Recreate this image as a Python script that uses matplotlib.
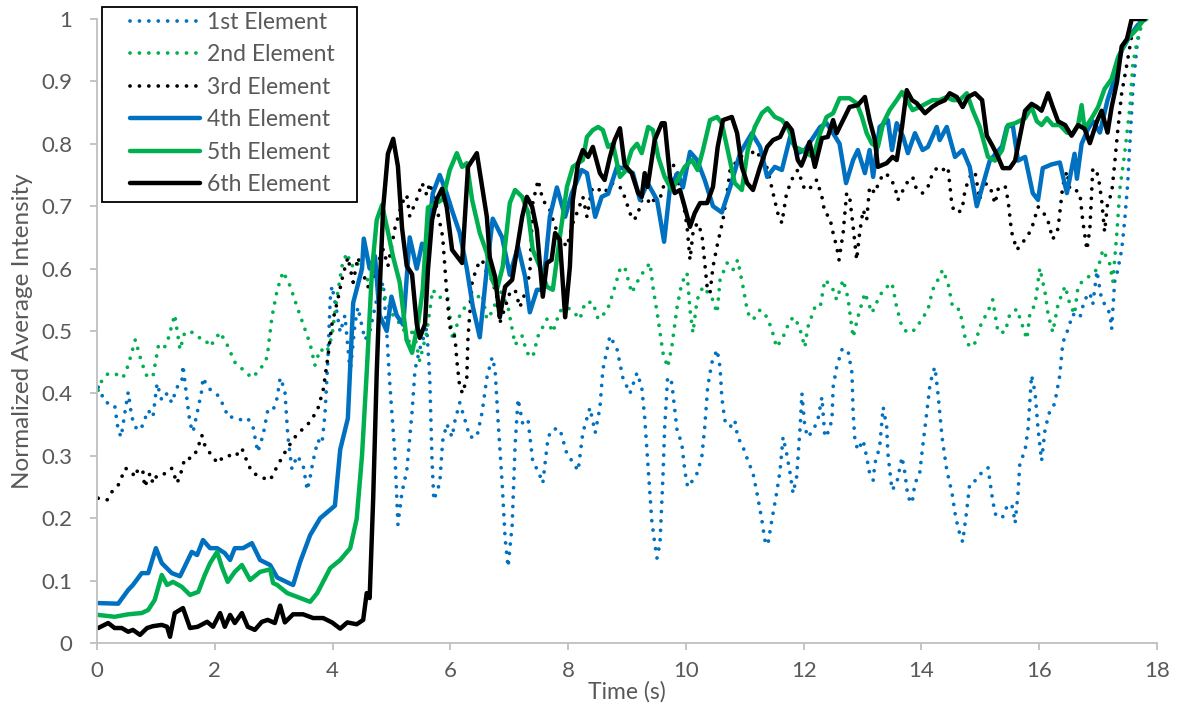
import matplotlib

matplotlib.use("Agg")
import matplotlib.pyplot as plt
from matplotlib.patches import Rectangle

plt.rcParams["font.family"] = ["Lato", "DejaVu Sans"]

# ---- data (time in s, normalized intensity) ----
t_elem1 = [0.02, 0.14, 0.3, 0.36, 0.41, 0.48, 0.53, 0.59, 0.68, 0.76, 0.87, 0.95, 1.02, 1.1, 1.19, 1.27, 1.36, 1.44,
           1.46, 1.53, 1.58, 1.63, 1.71, 1.78, 1.8, 1.88, 1.97, 2.05, 2.17, 2.22, 2.34, 2.46, 2.56, 2.65, 2.73, 2.82,
           2.9, 2.99, 3.06, 3.11, 3.19, 3.24, 3.31, 3.4, 3.5, 3.57, 3.62, 3.67, 3.75, 3.82, 3.87, 3.92, 3.96, 3.99,
           4.07, 4.13, 4.21, 4.3, 4.38, 4.43, 4.55, 4.63, 4.75, 4.86, 4.92, 4.97, 5.06, 5.11, 5.18, 5.26, 5.35, 5.4,
           5.48, 5.6, 5.65, 5.69, 5.72, 5.82, 5.87, 5.94, 6.03, 6.08, 6.16, 6.25, 6.33, 6.45, 6.54, 6.62, 6.71, 6.76,
           6.81, 6.88, 6.93, 6.98, 7.05, 7.1, 7.15, 7.23, 7.32, 7.4, 7.49, 7.57, 7.66, 7.74, 7.86, 7.98, 8.08, 8.17,
           8.25, 8.37, 8.46, 8.54, 8.59, 8.71, 8.83, 8.93, 9.05, 9.17, 9.25, 9.3, 9.35, 9.42, 9.47, 9.51, 9.56, 9.61,
           9.64, 9.69, 9.76, 9.85, 9.93, 9.98, 10.03, 10.12, 10.19, 10.27, 10.32, 10.37, 10.44, 10.53, 10.58, 10.61,
           10.66, 10.75, 10.83, 10.88, 10.97, 11.05, 11.14, 11.22, 11.29, 11.34, 11.39, 11.46, 11.54, 11.6, 11.65,
           11.71, 11.77, 11.82, 11.88, 11.94, 11.97, 12.02, 12.07, 12.16, 12.24, 12.31, 12.36, 12.41, 12.48, 12.5,
           12.56, 12.65, 12.75, 12.82, 12.84, 12.87, 12.92, 13.01, 13.07, 13.12, 13.18, 13.21, 13.29, 13.35, 13.41,
           13.43, 13.5, 13.58, 13.67, 13.72, 13.77, 13.84, 13.89, 13.97, 14.02, 14.09, 14.14, 14.19, 14.23, 14.28,
           14.35, 14.43, 14.52, 14.57, 14.63, 14.7, 14.77, 14.82, 14.91, 14.99, 15.13, 15.2, 15.25, 15.37, 15.47,
           15.55, 15.59, 15.64, 15.67, 15.76, 15.81, 15.87, 15.93, 15.98, 16.04, 16.1, 16.18, 16.26, 16.35, 16.4,
           16.49, 16.57, 16.69, 16.77, 16.86, 16.91, 16.98, 17.06, 17.15, 17.2, 17.23, 17.28, 17.33, 17.4, 17.45,
           17.5, 17.54, 17.59, 17.66, 17.71, 17.76]
v_elem1 = [0.41, 0.386, 0.381, 0.341, 0.33, 0.373, 0.402, 0.362, 0.341, 0.346, 0.373, 0.362, 0.416, 0.389, 0.4,
           0.385, 0.41, 0.418, 0.445, 0.389, 0.352, 0.338, 0.373, 0.405, 0.425, 0.41, 0.402, 0.397, 0.377, 0.362,
           0.362, 0.357, 0.36, 0.346, 0.306, 0.333, 0.373, 0.373, 0.393, 0.425, 0.405, 0.332, 0.279, 0.3, 0.285,
           0.245, 0.266, 0.292, 0.325, 0.319, 0.365, 0.452, 0.551, 0.572, 0.532, 0.498, 0.525, 0.433, 0.511, 0.538,
           0.486, 0.498, 0.551, 0.578, 0.498, 0.418, 0.3, 0.19, 0.242, 0.276, 0.37, 0.438, 0.471, 0.505, 0.425,
           0.29, 0.229, 0.256, 0.324, 0.351, 0.33, 0.357, 0.385, 0.357, 0.33, 0.33, 0.37, 0.425, 0.458, 0.438,
           0.357, 0.256, 0.168, 0.122, 0.189, 0.317, 0.391, 0.351, 0.357, 0.29, 0.276, 0.256, 0.33, 0.343, 0.343,
           0.303, 0.29, 0.276, 0.337, 0.377, 0.337, 0.377, 0.438, 0.492, 0.471, 0.425, 0.4, 0.433, 0.41, 0.362,
           0.293, 0.197, 0.16, 0.136, 0.16, 0.266, 0.346, 0.426, 0.417, 0.341, 0.32, 0.277, 0.25, 0.261, 0.272,
           0.298, 0.346, 0.41, 0.449, 0.47, 0.442, 0.394, 0.357, 0.346, 0.357, 0.33, 0.314, 0.293, 0.272, 0.234,
           0.197, 0.165, 0.157, 0.197, 0.24, 0.277, 0.33, 0.304, 0.272, 0.24, 0.266, 0.346, 0.4, 0.346, 0.33, 0.341,
           0.357, 0.394, 0.33, 0.337, 0.357, 0.41, 0.442, 0.47, 0.47, 0.433, 0.369, 0.325, 0.309, 0.325, 0.298,
           0.272, 0.261, 0.288, 0.314, 0.378, 0.346, 0.304, 0.245, 0.256, 0.298, 0.272, 0.234, 0.224, 0.256, 0.272,
           0.314, 0.369, 0.41, 0.433, 0.442, 0.4, 0.33, 0.277, 0.24, 0.208, 0.181, 0.162, 0.213, 0.256, 0.26, 0.27,
           0.281, 0.235, 0.207, 0.2, 0.223, 0.218, 0.192, 0.24, 0.287, 0.309, 0.343, 0.429, 0.401, 0.343, 0.292,
           0.343, 0.372, 0.383, 0.429, 0.481, 0.503, 0.527, 0.521, 0.55, 0.561, 0.543, 0.596, 0.55, 0.538, 0.527,
           0.503, 0.579, 0.596, 0.63, 0.676, 0.733, 0.801, 0.888, 0.956, 0.984, 1.0]

t_elem2 = [0.02, 0.08, 0.19, 0.36, 0.44, 0.53, 0.65, 0.76, 0.85, 0.95, 1.04, 1.12, 1.19, 1.32, 1.41, 1.49, 1.61,
           1.71, 1.83, 1.92, 2.09, 2.21, 2.34, 2.48, 2.63, 2.77, 2.89, 2.97, 3.06, 3.16, 3.28, 3.4, 3.5, 3.62, 3.7,
           3.79, 3.9, 3.99, 4.07, 4.16, 4.24, 4.33, 4.41, 4.5, 4.62, 4.75, 4.86, 5.03, 5.2, 5.28, 5.37, 5.48, 5.6,
           5.7, 5.82, 5.94, 6.04, 6.16, 6.3, 6.45, 6.54, 6.62, 6.72, 6.84, 6.98, 7.1, 7.22, 7.3, 7.4, 7.49, 7.64,
           7.74, 7.86, 7.98, 8.08, 8.2, 8.29, 8.42, 8.51, 8.66, 8.76, 8.88, 8.96, 9.08, 9.22, 9.39, 9.44, 9.53,
           9.61, 9.69, 9.76, 9.85, 9.93, 10.02, 10.07, 10.12, 10.19, 10.29, 10.44, 10.53, 10.58, 10.7, 10.8, 10.88,
           10.97, 11.05, 11.14, 11.26, 11.38, 11.46, 11.54, 11.65, 11.77, 11.85, 11.94, 12.02, 12.07, 12.19, 12.28,
           12.36, 12.48, 12.56, 12.67, 12.75, 12.84, 12.92, 13.04, 13.16, 13.26, 13.35, 13.5, 13.58, 13.67, 13.77,
           13.89, 14.0, 14.11, 14.19, 14.28, 14.36, 14.45, 14.53, 14.65, 14.74, 14.82, 14.91, 15.03, 15.11, 15.21,
           15.3, 15.42, 15.5, 15.62, 15.71, 15.79, 15.84, 15.93, 16.01, 16.1, 16.15, 16.23, 16.32, 16.44, 16.52,
           16.6, 16.66, 16.77, 16.89, 17.0, 17.08, 17.2, 17.25, 17.32, 17.37, 17.45, 17.54, 17.59, 17.67, 17.74,
           17.79]
v_elem2 = [0.405, 0.42, 0.432, 0.43, 0.425, 0.445, 0.486, 0.449, 0.427, 0.427, 0.475, 0.47, 0.481, 0.526, 0.47,
           0.498, 0.498, 0.49, 0.487, 0.475, 0.498, 0.478, 0.45, 0.438, 0.425, 0.438, 0.458, 0.522, 0.566, 0.595,
           0.572, 0.538, 0.511, 0.479, 0.445, 0.471, 0.465, 0.492, 0.551, 0.604, 0.625, 0.604, 0.612, 0.591, 0.58,
           0.6, 0.56, 0.525, 0.505, 0.478, 0.505, 0.452, 0.498, 0.566, 0.553, 0.566, 0.486, 0.525, 0.546, 0.553,
           0.56, 0.519, 0.532, 0.566, 0.538, 0.478, 0.492, 0.465, 0.458, 0.492, 0.519, 0.498, 0.532, 0.538, 0.532,
           0.519, 0.546, 0.546, 0.519, 0.532, 0.56, 0.599, 0.603, 0.561, 0.587, 0.609, 0.571, 0.518, 0.465, 0.442,
           0.474, 0.538, 0.577, 0.593, 0.534, 0.497, 0.55, 0.571, 0.554, 0.529, 0.582, 0.609, 0.598, 0.614, 0.571,
           0.529, 0.518, 0.534, 0.522, 0.502, 0.474, 0.49, 0.518, 0.522, 0.502, 0.474, 0.506, 0.538, 0.538, 0.582,
           0.571, 0.55, 0.582, 0.554, 0.49, 0.522, 0.561, 0.529, 0.55, 0.566, 0.577, 0.538, 0.506, 0.497, 0.502,
           0.518, 0.534, 0.566, 0.582, 0.598, 0.577, 0.538, 0.534, 0.49, 0.474, 0.481, 0.516, 0.527, 0.55, 0.498,
           0.498, 0.527, 0.535, 0.51, 0.487, 0.527, 0.543, 0.601, 0.561, 0.527, 0.498, 0.543, 0.572, 0.543, 0.527,
           0.572, 0.583, 0.59, 0.601, 0.63, 0.607, 0.579, 0.659, 0.728, 0.784, 0.859, 0.928, 0.968, 0.99, 1.0]

t_elem3 = [0.02, 0.17, 0.25, 0.36, 0.42, 0.48, 0.56, 0.65, 0.7, 0.78, 0.81, 0.9, 0.95, 1.02, 1.19, 1.27, 1.36, 1.44,
           1.49, 1.61, 1.7, 1.78, 1.83, 1.92, 2.05, 2.14, 2.22, 2.34, 2.46, 2.56, 2.63, 2.77, 2.94, 3.07, 3.23, 3.4,
           3.57, 3.74, 3.84, 3.92, 3.99, 4.09, 4.18, 4.26, 4.35, 4.43, 4.52, 4.63, 4.75, 4.86, 4.94, 5.06, 5.18,
           5.26, 5.31, 5.43, 5.52, 5.6, 5.65, 5.77, 5.87, 5.94, 5.99, 6.08, 6.11, 6.16, 6.21, 6.28, 6.3, 6.37, 6.45,
           6.54, 6.62, 6.71, 6.79, 6.84, 6.93, 7.01, 7.1, 7.18, 7.27, 7.35, 7.4, 7.49, 7.57, 7.69, 7.78, 7.89, 7.98,
           8.08, 8.17, 8.25, 8.32, 8.4, 8.49, 8.57, 8.66, 8.76, 8.88, 8.96, 9.05, 9.1, 9.17, 9.25, 9.34, 9.42, 9.51,
           9.59, 9.68, 9.78, 9.86, 9.95, 10.02, 10.07, 10.12, 10.19, 10.27, 10.36, 10.41, 10.46, 10.54, 10.63, 10.7,
           10.75, 10.88, 11.0, 11.09, 11.17, 11.29, 11.39, 11.48, 11.56, 11.63, 11.71, 11.82, 11.9, 12.02, 12.14,
           12.22, 12.31, 12.36, 12.44, 12.5, 12.56, 12.6, 12.67, 12.73, 12.78, 12.84, 12.9, 12.95, 13.01, 13.07,
           13.12, 13.21, 13.29, 13.38, 13.46, 13.55, 13.6, 13.69, 13.75, 13.85, 13.92, 14.02, 14.11, 14.19, 14.28,
           14.36, 14.45, 14.52, 14.6, 14.69, 14.74, 14.82, 14.91, 14.99, 15.04, 15.16, 15.25, 15.3, 15.42, 15.47,
           15.53, 15.62, 15.71, 15.81, 15.89, 15.98, 16.06, 16.15, 16.23, 16.32, 16.4, 16.47, 16.52, 16.6, 16.69,
           16.74, 16.81, 16.86, 16.91, 17.0, 17.06, 17.11, 17.16, 17.23, 17.28, 17.33, 17.4, 17.49, 17.57, 17.67,
           17.76]
v_elem3 = [0.232, 0.229, 0.242, 0.253, 0.266, 0.28, 0.277, 0.266, 0.28, 0.274, 0.25, 0.272, 0.256, 0.269, 0.272,
           0.28, 0.256, 0.277, 0.296, 0.296, 0.309, 0.333, 0.317, 0.304, 0.288, 0.298, 0.301, 0.298, 0.312, 0.288,
           0.274, 0.266, 0.261, 0.285, 0.312, 0.335, 0.349, 0.372, 0.405, 0.458, 0.511, 0.551, 0.591, 0.618, 0.578,
           0.618, 0.591, 0.565, 0.604, 0.631, 0.604, 0.665, 0.705, 0.718, 0.684, 0.711, 0.737, 0.718, 0.737, 0.698,
           0.651, 0.56, 0.507, 0.49, 0.453, 0.41, 0.4, 0.426, 0.49, 0.577, 0.603, 0.614, 0.593, 0.582, 0.555, 0.513,
           0.538, 0.561, 0.566, 0.538, 0.561, 0.593, 0.705, 0.742, 0.71, 0.694, 0.667, 0.646, 0.635, 0.673, 0.694,
           0.715, 0.683, 0.726, 0.731, 0.721, 0.726, 0.737, 0.731, 0.715, 0.689, 0.678, 0.683, 0.71, 0.705, 0.715,
           0.699, 0.721, 0.753, 0.769, 0.742, 0.71, 0.667, 0.614, 0.657, 0.673, 0.657, 0.571, 0.561, 0.603, 0.641,
           0.678, 0.721, 0.758, 0.774, 0.785, 0.795, 0.779, 0.785, 0.758, 0.721, 0.689, 0.673, 0.721, 0.747, 0.758,
           0.726, 0.731, 0.742, 0.715, 0.689, 0.683, 0.657, 0.635, 0.614, 0.657, 0.721, 0.715, 0.667, 0.614, 0.657,
           0.694, 0.678, 0.731, 0.721, 0.742, 0.753, 0.747, 0.731, 0.71, 0.726, 0.737, 0.747, 0.726, 0.721, 0.731,
           0.753, 0.763, 0.758, 0.763, 0.699, 0.689, 0.694, 0.726, 0.747, 0.755, 0.71, 0.738, 0.733, 0.704, 0.727,
           0.733, 0.71, 0.659, 0.63, 0.641, 0.653, 0.67, 0.699, 0.692, 0.676, 0.647, 0.664, 0.733, 0.756, 0.727,
           0.727, 0.721, 0.676, 0.63, 0.664, 0.761, 0.75, 0.71, 0.659, 0.704, 0.721, 0.767, 0.818, 0.881, 0.928,
           0.973, 0.99, 1.0]

t_elem4 = [0.02, 0.36, 0.53, 0.61, 0.76, 0.87, 1.0, 1.1, 1.27, 1.41, 1.61, 1.7, 1.8, 1.92, 2.04, 2.17, 2.26, 2.34,
           2.48, 2.63, 2.77, 2.94, 3.06, 3.28, 3.33, 3.45, 3.62, 3.79, 4.04, 4.13, 4.26, 4.35, 4.5, 4.53, 4.63,
           4.72, 4.8, 4.92, 5.0, 5.09, 5.2, 5.31, 5.43, 5.52, 5.6, 5.7, 5.82, 5.94, 6.04, 6.16, 6.28, 6.38, 6.5,
           6.62, 6.72, 6.88, 7.01, 7.15, 7.27, 7.35, 7.47, 7.57, 7.69, 7.81, 7.95, 8.06, 8.23, 8.32, 8.46, 8.57,
           8.68, 8.83, 8.96, 9.1, 9.22, 9.35, 9.51, 9.63, 9.73, 9.86, 9.95, 10.07, 10.19, 10.32, 10.46, 10.61,
           10.75, 10.92, 11.12, 11.26, 11.38, 11.51, 11.63, 11.77, 11.9, 12.02, 12.28, 12.39, 12.5, 12.61, 12.72,
           12.84, 12.92, 13.04, 13.12, 13.18, 13.29, 13.43, 13.5, 13.58, 13.69, 13.77, 13.89, 14.02, 14.11, 14.26,
           14.31, 14.43, 14.57, 14.7, 14.82, 14.94, 15.04, 15.16, 15.37, 15.45, 15.55, 15.64, 15.76, 15.89, 15.98,
           16.06, 16.21, 16.35, 16.47, 16.6, 16.64, 16.72, 16.83, 16.91, 17.03, 17.16, 17.28, 17.4, 17.54, 17.67,
           17.79]
v_elem4 = [0.064, 0.063, 0.085, 0.093, 0.112, 0.112, 0.152, 0.128, 0.112, 0.107, 0.146, 0.141, 0.165, 0.152, 0.152,
           0.144, 0.133, 0.152, 0.152, 0.16, 0.133, 0.125, 0.105, 0.095, 0.093, 0.13, 0.173, 0.2, 0.22, 0.31, 0.36,
           0.545, 0.6, 0.648, 0.6, 0.62, 0.525, 0.5, 0.555, 0.525, 0.51, 0.65, 0.6, 0.64, 0.625, 0.72, 0.75, 0.72,
           0.69, 0.657, 0.6, 0.54, 0.49, 0.6, 0.68, 0.65, 0.59, 0.635, 0.587, 0.53, 0.566, 0.566, 0.683, 0.73, 0.683,
           0.72, 0.758, 0.753, 0.683, 0.715, 0.72, 0.763, 0.76, 0.753, 0.71, 0.737, 0.71, 0.643, 0.73, 0.753, 0.73,
           0.787, 0.774, 0.742, 0.7, 0.69, 0.73, 0.785, 0.817, 0.795, 0.747, 0.763, 0.758, 0.811, 0.785, 0.79, 0.827,
           0.833, 0.817, 0.8, 0.737, 0.774, 0.79, 0.753, 0.79, 0.747, 0.827, 0.838, 0.79, 0.833, 0.811, 0.785, 0.817,
           0.79, 0.795, 0.827, 0.806, 0.827, 0.779, 0.79, 0.763, 0.7, 0.733, 0.773, 0.796, 0.827, 0.83, 0.773, 0.779,
           0.721, 0.71, 0.761, 0.767, 0.77, 0.721, 0.784, 0.744, 0.8, 0.824, 0.836, 0.818, 0.87, 0.904, 0.95, 0.973,
           0.99, 1.0]

t_elem5 = [0.02, 0.3, 0.53, 0.76, 0.87, 0.98, 1.1, 1.19, 1.29, 1.44, 1.58, 1.72, 1.83, 1.92, 2.04, 2.12, 2.22, 2.34,
           2.46, 2.6, 2.77, 2.94, 2.99, 3.06, 3.23, 3.45, 3.62, 3.74, 3.96, 4.13, 4.3, 4.41, 4.5, 4.58, 4.67, 4.75,
           4.84, 4.94, 5.03, 5.14, 5.26, 5.35, 5.45, 5.53, 5.62, 5.77, 5.87, 5.99, 6.11, 6.2, 6.28, 6.37, 6.5, 6.62,
           6.71, 6.79, 6.89, 7.01, 7.1, 7.22, 7.32, 7.4, 7.52, 7.64, 7.74, 7.86, 7.98, 8.08, 8.25, 8.32, 8.42, 8.51,
           8.59, 8.68, 8.76, 8.88, 8.96, 9.08, 9.17, 9.25, 9.36, 9.44, 9.53, 9.64, 9.76, 9.86, 9.98, 10.1, 10.2,
           10.29, 10.41, 10.53, 10.61, 10.71, 10.83, 10.95, 11.05, 11.17, 11.29, 11.39, 11.51, 11.63, 11.73, 11.85,
           11.97, 12.05, 12.16, 12.28, 12.39, 12.5, 12.61, 12.78, 12.9, 12.99, 13.07, 13.16, 13.26, 13.35, 13.46,
           13.58, 13.67, 13.75, 13.85, 13.97, 14.09, 14.19, 14.31, 14.43, 14.53, 14.65, 14.77, 14.87, 14.99, 15.13,
           15.25, 15.37, 15.47, 15.59, 15.76, 15.87, 15.96, 16.04, 16.13, 16.23, 16.35, 16.47, 16.57, 16.66, 16.72,
           16.77, 16.89, 17.0, 17.11, 17.23, 17.34, 17.5, 17.66, 17.76, 17.82]
v_elem5 = [0.045, 0.042, 0.046, 0.048, 0.053, 0.069, 0.109, 0.093, 0.098, 0.09, 0.077, 0.082, 0.109, 0.128, 0.146,
           0.122, 0.098, 0.114, 0.125, 0.101, 0.114, 0.118, 0.096, 0.093, 0.08, 0.072, 0.066, 0.08, 0.12, 0.133,
           0.152, 0.199, 0.3, 0.433, 0.598, 0.678, 0.702, 0.659, 0.618, 0.578, 0.485, 0.465, 0.511, 0.565, 0.698,
           0.705, 0.711, 0.758, 0.785, 0.763, 0.769, 0.71, 0.657, 0.625, 0.582, 0.566, 0.603, 0.705, 0.726, 0.715,
           0.69, 0.63, 0.603, 0.571, 0.566, 0.651, 0.731, 0.763, 0.774, 0.811, 0.822, 0.827, 0.822, 0.795, 0.8,
           0.747, 0.755, 0.79, 0.8, 0.785, 0.827, 0.822, 0.779, 0.747, 0.726, 0.742, 0.763, 0.774, 0.758, 0.79,
           0.838, 0.843, 0.833, 0.79, 0.737, 0.726, 0.79, 0.827, 0.849, 0.857, 0.843, 0.838, 0.827, 0.795, 0.79,
           0.785, 0.779, 0.817, 0.843, 0.849, 0.873, 0.873, 0.865, 0.843, 0.817, 0.8, 0.795, 0.833, 0.854, 0.87,
           0.883, 0.87, 0.854, 0.859, 0.865, 0.87, 0.87, 0.875, 0.87, 0.87, 0.881, 0.854, 0.827, 0.779, 0.773, 0.79,
           0.83, 0.833, 0.841, 0.859, 0.836, 0.83, 0.841, 0.83, 0.83, 0.818, 0.816, 0.83, 0.862, 0.824, 0.841, 0.859,
           0.888, 0.904, 0.939, 0.968, 0.984, 0.997, 1.0]

t_elem6 = [0.02, 0.19, 0.3, 0.42, 0.53, 0.61, 0.73, 0.85, 0.95, 1.1, 1.19, 1.24, 1.32, 1.46, 1.58, 1.71, 1.87, 1.97,
           2.09, 2.17, 2.26, 2.34, 2.46, 2.56, 2.68, 2.8, 2.9, 3.02, 3.11, 3.19, 3.33, 3.5, 3.67, 3.84, 3.99, 4.13,
           4.25, 4.41, 4.52, 4.58, 4.63, 4.69, 4.75, 4.8, 4.86, 4.94, 5.03, 5.11, 5.18, 5.26, 5.35, 5.43, 5.48, 5.57,
           5.62, 5.69, 5.77, 5.86, 5.94, 6.03, 6.2, 6.3, 6.45, 6.54, 6.62, 6.67, 6.76, 6.84, 6.93, 7.05, 7.13, 7.22,
           7.3, 7.39, 7.47, 7.57, 7.64, 7.72, 7.78, 7.86, 7.95, 8.03, 8.08, 8.17, 8.25, 8.34, 8.42, 8.54, 8.62, 8.71,
           8.79, 8.88, 8.96, 9.08, 9.19, 9.25, 9.3, 9.35, 9.47, 9.59, 9.64, 9.73, 9.81, 9.9, 9.98, 10.07, 10.15,
           10.24, 10.36, 10.46, 10.54, 10.63, 10.78, 10.87, 10.95, 11.04, 11.14, 11.26, 11.38, 11.48, 11.6, 11.71,
           11.8, 11.9, 11.96, 12.02, 12.1, 12.19, 12.31, 12.41, 12.5, 12.56, 12.67, 12.78, 12.92, 13.04, 13.12,
           13.21, 13.26, 13.41, 13.51, 13.58, 13.67, 13.75, 13.84, 13.92, 14.06, 14.18, 14.28, 14.4, 14.48, 14.6,
           14.7, 14.79, 14.91, 15.03, 15.11, 15.21, 15.3, 15.38, 15.5, 15.59, 15.71, 15.76, 15.87, 15.96, 16.04,
           16.15, 16.23, 16.32, 16.44, 16.55, 16.66, 16.77, 16.86, 16.98, 17.06, 17.16, 17.23, 17.32, 17.4, 17.49,
           17.57, 17.79]
v_elem6 = [0.024, 0.032, 0.024, 0.024, 0.018, 0.021, 0.013, 0.024, 0.027, 0.029, 0.026, 0.01, 0.048, 0.056, 0.024,
           0.026, 0.034, 0.026, 0.048, 0.026, 0.045, 0.032, 0.048, 0.026, 0.021, 0.034, 0.037, 0.032, 0.06, 0.033,
           0.046, 0.046, 0.04, 0.04, 0.033, 0.023, 0.033, 0.03, 0.037, 0.08, 0.072, 0.232, 0.433, 0.565, 0.698,
           0.784, 0.808, 0.764, 0.665, 0.604, 0.591, 0.511, 0.489, 0.511, 0.598, 0.678, 0.711, 0.728, 0.698, 0.63,
           0.609, 0.763, 0.785, 0.731, 0.683, 0.618, 0.587, 0.522, 0.571, 0.582, 0.63, 0.683, 0.715, 0.699, 0.662,
           0.555, 0.609, 0.614, 0.657, 0.646, 0.522, 0.603, 0.71, 0.769, 0.79, 0.779, 0.795, 0.753, 0.742, 0.779,
           0.806, 0.825, 0.766, 0.753, 0.721, 0.715, 0.753, 0.731, 0.806, 0.833, 0.833, 0.747, 0.721, 0.726, 0.699,
           0.667, 0.689, 0.705, 0.705, 0.731, 0.795, 0.838, 0.843, 0.817, 0.763, 0.737, 0.726, 0.763, 0.795, 0.806,
           0.811, 0.833, 0.822, 0.774, 0.765, 0.779, 0.803, 0.763, 0.809, 0.811, 0.838, 0.817, 0.838, 0.859, 0.862,
           0.875, 0.838, 0.806, 0.763, 0.769, 0.779, 0.774, 0.827, 0.886, 0.87, 0.865, 0.849, 0.859, 0.865, 0.87,
           0.881, 0.875, 0.859, 0.875, 0.881, 0.87, 0.813, 0.796, 0.779, 0.761, 0.761, 0.773, 0.83, 0.853, 0.864,
           0.859, 0.853, 0.881, 0.859, 0.836, 0.83, 0.813, 0.83, 0.824, 0.801, 0.836, 0.853, 0.818, 0.859, 0.899,
           0.956, 0.968, 1.0, 1.0]

labels = ["1st Element", "2nd Element", "3rd Element", "4th Element", "5th Element", "6th Element"]
x_ticks = [0, 2, 4, 6, 8, 10, 12, 14, 16, 18]
y_ticks = [0, 0.1, 0.2, 0.3, 0.4, 0.5, 0.6, 0.7, 0.8, 0.9, 1]

BLUE = "#0070C0"
GREEN = "#00B050"
BLACK = "#000000"
TXT = "#595959"
AXC = "#BFBFBF"
dots = (0, (0.01, 2.5))

fig = plt.figure(figsize=(11.85, 7.13), dpi=100)
ax = fig.add_axes([97 / 1185, 1 - 643 / 713, (1157 - 97) / 1185, (643 - 19) / 713])

series = [
    (t_elem1, v_elem1, BLUE, dots, 2.7),
    (t_elem2, v_elem2, GREEN, dots, 2.7),
    (t_elem3, v_elem3, BLACK, dots, 2.7),
    (t_elem4, v_elem4, BLUE, "-", 3.2),
    (t_elem5, v_elem5, GREEN, "-", 3.2),
    (t_elem6, v_elem6, BLACK, "-", 3.2),
]
for (t, v, c, ls, lw), lab in zip(series, labels):
    ax.plot(t, v, color=c, linestyle=ls, lw=lw, label=lab,
            dash_capstyle="round", solid_joinstyle="round", solid_capstyle="round")

ax.set_xlim(0, 18)
ax.set_ylim(0, 1)
ax.set_xticks(x_ticks)
ax.set_yticks(y_ticks)
ax.set_yticklabels([f"{v:g}" for v in y_ticks])
for s in ["top", "right"]:
    ax.spines[s].set_visible(False)
for s in ["left", "bottom"]:
    ax.spines[s].set_color(AXC)
    ax.spines[s].set_linewidth(1.3)
ax.tick_params(axis="both", colors=AXC, labelcolor=TXT, labelsize=16, length=5, width=1.3)
ax.tick_params(axis="x", pad=8)
ax.tick_params(axis="y", pad=13)
ax.set_xlabel("Time (s)", fontsize=16.5, color=TXT, labelpad=0)
ax.set_ylabel("Normalized Average Intensity", fontsize=17.5, color=TXT, labelpad=6)

# legend entries without frame; box drawn separately to get the wide left inset
leg = ax.legend(loc="upper left", bbox_to_anchor=(130 / 1185, 1 - 12 / 713),
                bbox_transform=fig.transFigure, fontsize=16.5, frameon=False,
                handlelength=3.05, handletextpad=0.3, labelspacing=0.5, borderpad=0,
                borderaxespad=0)
leg.set_zorder(6)
for txt in leg.get_texts():
    txt.set_color(TXT)
box = Rectangle((102 / 1185, 1 - 202 / 713), (357 - 102) / 1185, (202 - 7) / 713,
                transform=fig.transFigure, facecolor="white", edgecolor="black",
                lw=1.3, zorder=5, clip_on=False)
ax.add_artist(box)

plt.savefig("out.png", dpi=100)
plt.close()
